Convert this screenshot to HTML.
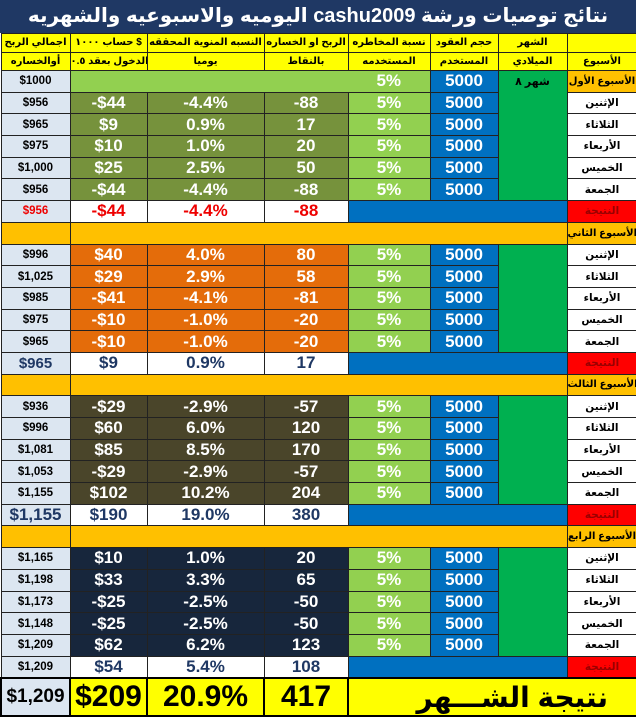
<!DOCTYPE html>
<html><head><meta charset="utf-8"><style>
body{margin:0;width:636px;height:716px;overflow:hidden;background:#fff;font-family:"Liberation Sans","DejaVu Sans",sans-serif;}
.title{position:absolute;left:0;top:0;width:636px;height:33px;background:#1f3864;color:#fff;font-weight:bold;font-size:20px;line-height:33px;text-align:center;direction:rtl;}
table{position:absolute;left:0;top:33px;border-collapse:collapse;table-layout:fixed;width:636px;}
td{border:1px solid #222;padding:0;text-align:center;font-weight:bold;white-space:nowrap;overflow:hidden;height:20.7px;font-size:17px;color:#fff;}
tr.hd td{background:#ffff00;color:#000;font-size:10px;height:17.5px;}
td.a{background:#dce6f1;color:#000;font-size:11.5px;}
.w1{background:#76923c}.w2{background:#e46c0a}.w3{background:#4a452a}.w4{background:#17263c}
td.e{background:#92d050}td.f{background:#0070c0}td.g{background:#00b050;vertical-align:top;color:#000;font-size:11px;padding-top:4px;}
td.h{background:#fff;color:#000;font-size:10.5px;}
td.o{background:#ffc000;}
td.oh{background:#ffc000;color:#000;font-size:10px;}
td.r{background:#fff;color:#1f3864;}
td.rr{background:#fff;color:#e00;}
td.bl{background:#0070c0;}
td.red{background:#ff0000;color:#900;font-size:10.5px;}
td.lg{background:#92d050;border-right:none;}
tr.fin td{height:36px;background:#ffff00;color:#000;font-size:30px;border:2px solid #000;}
tr.fin td.a{background:#dce6f1;font-size:19px;}
</style></head><body>
<div class="title">نتائج توصيات ورشة cashu2009 اليوميه والاسبوعيه والشهريه</div>
<table>
<colgroup><col style="width:69px"><col style="width:77px"><col style="width:117px"><col style="width:84px"><col style="width:82px"><col style="width:68px"><col style="width:69px"><col style="width:70px"></colgroup>
<tr class="hd"><td>اجمالي الربح</td><td>حساب ١٠٠٠ $</td><td>النسبه المنوية المحققه</td><td>الربح او الخساره</td><td>نسبة المخاطره</td><td>حجم العقود</td><td>الشهر</td><td></td></tr>
<tr class="hd"><td>أوالخساره</td><td>الدخول بعقد ٠.٥</td><td>يوميا</td><td>بالنقاط</td><td>المستخدمه</td><td>المستخدم</td><td>الميلادي</td><td>الأسبوع</td></tr>

<tr><td class="a">$1000</td><td class="lg" colspan="3"></td><td class="e" style="border-left:none">5%</td><td class="f">5000</td><td class="g" rowspan="6">شهر ٨</td><td class="oh">الأسبوع الأول</td></tr>
<tr><td class="a">$956</td><td class="w1">-$44</td><td class="w1">-4.4%</td><td class="w1">-88</td><td class="e">5%</td><td class="f">5000</td><td class="h">الإثنين</td></tr>
<tr><td class="a">$965</td><td class="w1">$9</td><td class="w1">0.9%</td><td class="w1">17</td><td class="e">5%</td><td class="f">5000</td><td class="h">الثلاثاء</td></tr>
<tr><td class="a">$975</td><td class="w1">$10</td><td class="w1">1.0%</td><td class="w1">20</td><td class="e">5%</td><td class="f">5000</td><td class="h">الأربعاء</td></tr>
<tr><td class="a">$1,000</td><td class="w1">$25</td><td class="w1">2.5%</td><td class="w1">50</td><td class="e">5%</td><td class="f">5000</td><td class="h">الخميس</td></tr>
<tr><td class="a">$956</td><td class="w1">-$44</td><td class="w1">-4.4%</td><td class="w1">-88</td><td class="e">5%</td><td class="f">5000</td><td class="h">الجمعة</td></tr>
<tr><td class="a" style="color:#e00">$956</td><td class="rr">-$44</td><td class="rr">-4.4%</td><td class="rr">-88</td><td class="bl" colspan="3"></td><td class="red">النتيجة</td></tr>

<tr><td class="o"></td><td class="o" colspan="6"></td><td class="oh">الأسبوع الثاني</td></tr>
<tr><td class="a">$996</td><td class="w2">$40</td><td class="w2">4.0%</td><td class="w2">80</td><td class="e">5%</td><td class="f">5000</td><td class="g" rowspan="5"></td><td class="h">الإثنين</td></tr>
<tr><td class="a">$1,025</td><td class="w2">$29</td><td class="w2">2.9%</td><td class="w2">58</td><td class="e">5%</td><td class="f">5000</td><td class="h">الثلاثاء</td></tr>
<tr><td class="a">$985</td><td class="w2">-$41</td><td class="w2">-4.1%</td><td class="w2">-81</td><td class="e">5%</td><td class="f">5000</td><td class="h">الأربعاء</td></tr>
<tr><td class="a">$975</td><td class="w2">-$10</td><td class="w2">-1.0%</td><td class="w2">-20</td><td class="e">5%</td><td class="f">5000</td><td class="h">الخميس</td></tr>
<tr><td class="a">$965</td><td class="w2">-$10</td><td class="w2">-1.0%</td><td class="w2">-20</td><td class="e">5%</td><td class="f">5000</td><td class="h">الجمعة</td></tr>
<tr><td class="a" style="color:#1f3864;font-size:15px">$965</td><td class="r">$9</td><td class="r">0.9%</td><td class="r">17</td><td class="bl" colspan="3"></td><td class="red">النتيجة</td></tr>

<tr><td class="o"></td><td class="o" colspan="6"></td><td class="oh">الأسبوع الثالث</td></tr>
<tr><td class="a">$936</td><td class="w3">-$29</td><td class="w3">-2.9%</td><td class="w3">-57</td><td class="e">5%</td><td class="f">5000</td><td class="g" rowspan="5"></td><td class="h">الإثنين</td></tr>
<tr><td class="a">$996</td><td class="w3">$60</td><td class="w3">6.0%</td><td class="w3">120</td><td class="e">5%</td><td class="f">5000</td><td class="h">الثلاثاء</td></tr>
<tr><td class="a">$1,081</td><td class="w3">$85</td><td class="w3">8.5%</td><td class="w3">170</td><td class="e">5%</td><td class="f">5000</td><td class="h">الأربعاء</td></tr>
<tr><td class="a">$1,053</td><td class="w3">-$29</td><td class="w3">-2.9%</td><td class="w3">-57</td><td class="e">5%</td><td class="f">5000</td><td class="h">الخميس</td></tr>
<tr><td class="a">$1,155</td><td class="w3">$102</td><td class="w3">10.2%</td><td class="w3">204</td><td class="e">5%</td><td class="f">5000</td><td class="h">الجمعة</td></tr>
<tr><td class="a" style="color:#1f3864;font-size:17px">$1,155</td><td class="r">$190</td><td class="r">19.0%</td><td class="r">380</td><td class="bl" colspan="3"></td><td class="red">النتيجة</td></tr>

<tr><td class="o"></td><td class="o" colspan="6"></td><td class="oh">الأسبوع الرابع</td></tr>
<tr><td class="a">$1,165</td><td class="w4">$10</td><td class="w4">1.0%</td><td class="w4">20</td><td class="e">5%</td><td class="f">5000</td><td class="g" rowspan="5"></td><td class="h">الإثنين</td></tr>
<tr><td class="a">$1,198</td><td class="w4">$33</td><td class="w4">3.3%</td><td class="w4">65</td><td class="e">5%</td><td class="f">5000</td><td class="h">الثلاثاء</td></tr>
<tr><td class="a">$1,173</td><td class="w4">-$25</td><td class="w4">-2.5%</td><td class="w4">-50</td><td class="e">5%</td><td class="f">5000</td><td class="h">الأربعاء</td></tr>
<tr><td class="a">$1,148</td><td class="w4">-$25</td><td class="w4">-2.5%</td><td class="w4">-50</td><td class="e">5%</td><td class="f">5000</td><td class="h">الخميس</td></tr>
<tr><td class="a">$1,209</td><td class="w4">$62</td><td class="w4">6.2%</td><td class="w4">123</td><td class="e">5%</td><td class="f">5000</td><td class="h">الجمعة</td></tr>
<tr><td class="a">$1,209</td><td class="r">$54</td><td class="r">5.4%</td><td class="r">108</td><td class="bl" colspan="3"></td><td class="red">النتيجة</td></tr>

<tr class="fin"><td class="a">$1,209</td><td>$209</td><td>20.9%</td><td>417</td><td colspan="4" style="text-align:right;padding-right:28px;direction:rtl;font-size:28px">نتيجة الشـــهر</td></tr>
</table>
</body></html>
